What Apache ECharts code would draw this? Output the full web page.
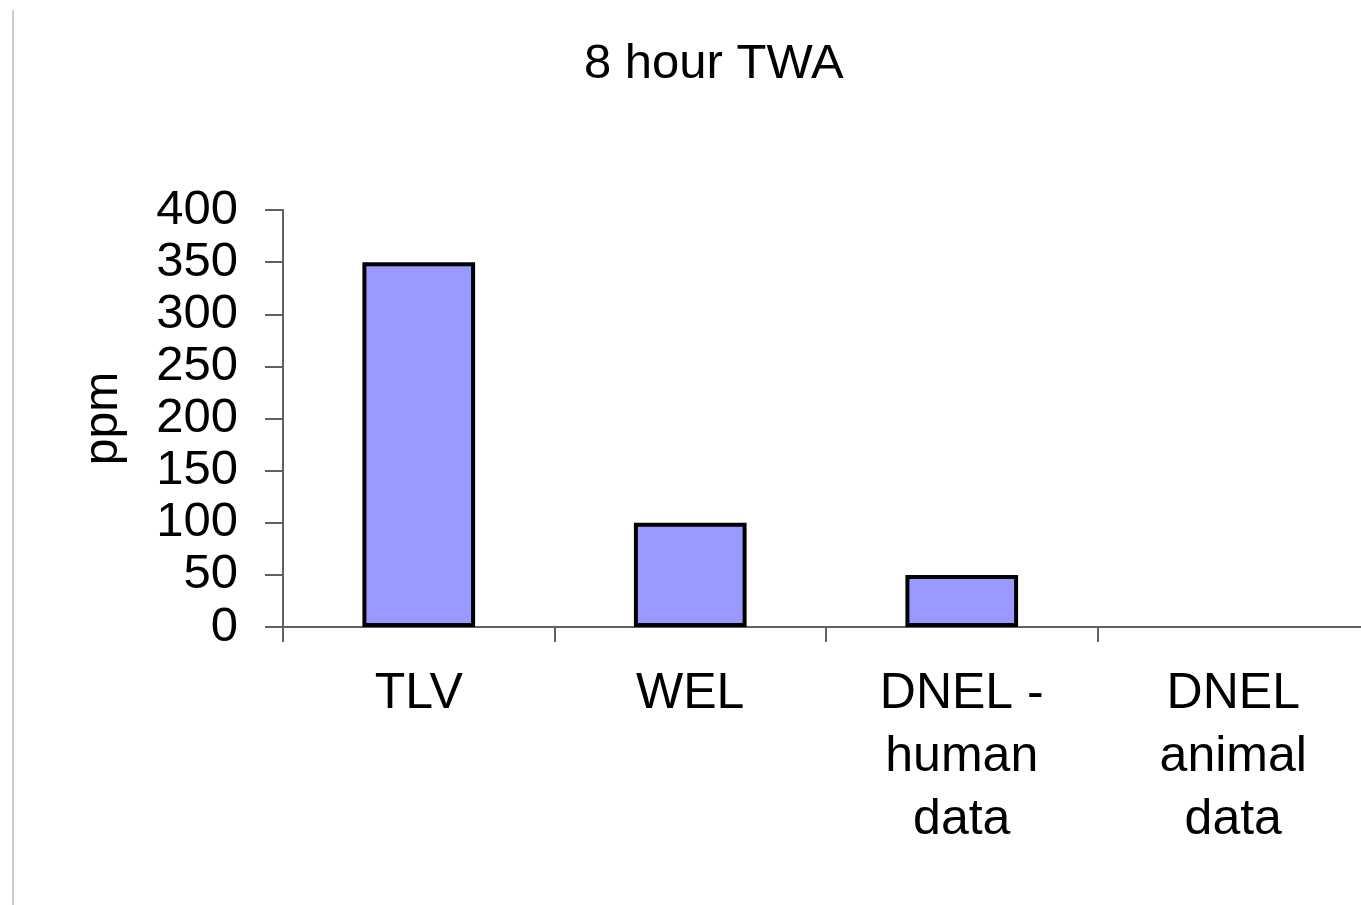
<!DOCTYPE html>
<html>
<head>
<meta charset="utf-8">
<script src="https://cdn.jsdelivr.net/npm/echarts@6/dist/echarts.min.js"></script>
<style>
html,body{margin:0;padding:0;background:#fff;overflow:hidden;width:1361px;height:905px;}
#chart{width:1370px;height:905px;}
</style>
</head>
<body>
<div id="chart"></div>
<script>
const titleText = '8 hour TWA';
const categories = ['TLV', 'WEL', 'DNEL -\nhuman\ndata', 'DNEL\nanimal\ndata'];
const values = [350, 100, 50, 0];
const yTicks = { min: 0, max: 400, interval: 50 };
const yName = 'ppm';

const chart = echarts.init(document.getElementById('chart'));
const font = 'Liberation Sans, Arial, sans-serif';
chart.setOption({
  animation: false,
  backgroundColor: '#ffffff',
  title: {
    text: titleText,
    left: 579,
    top: 35,
    textStyle: { fontFamily: font, fontSize: 49, fontWeight: 'normal', color: '#000' }
  },
  grid: { left: 283, width: 1086, top: 210, height: 417, containLabel: false },
  xAxis: {
    type: 'category',
    data: categories,
    boundaryGap: true,
    axisLine: { lineStyle: { color: '#606060', width: 2 } },
    axisTick: { show: true, length: 15, lineStyle: { color: '#606060', width: 2 } },
    axisLabel: {
      color: '#000', fontFamily: font, fontSize: 50, lineHeight: 63, margin: 36, interval: 0
    },
    splitLine: { show: false }
  },
  yAxis: {
    type: 'value',
    min: yTicks.min, max: yTicks.max, interval: yTicks.interval,
    name: yName,
    nameLocation: 'middle',
    nameGap: 155,
    nameRotate: 90,
    nameTextStyle: { color: '#000', fontFamily: font, fontSize: 48 },
    axisLine: { show: true, lineStyle: { color: '#606060', width: 2 } },
    axisTick: { show: true, length: 18, lineStyle: { color: '#606060', width: 2 } },
    axisLabel: { color: '#000', fontFamily: font, fontSize: 49, margin: 45 },
    splitLine: { show: false }
  },
  series: [{
    type: 'bar',
    data: values.map(v => v === 0 ? { value: v, itemStyle: { borderWidth: 0 } } : v),
    barWidth: '41.5%',
    itemStyle: { color: '#9999ff', borderColor: '#000', borderWidth: 4 }
  }],
  graphic: [{
    type: 'line',
    shape: { x1: 13, y1: 10, x2: 13, y2: 905 },
    style: { stroke: '#cccccc', lineWidth: 2 }
  }]
});
</script>
</body>
</html>
